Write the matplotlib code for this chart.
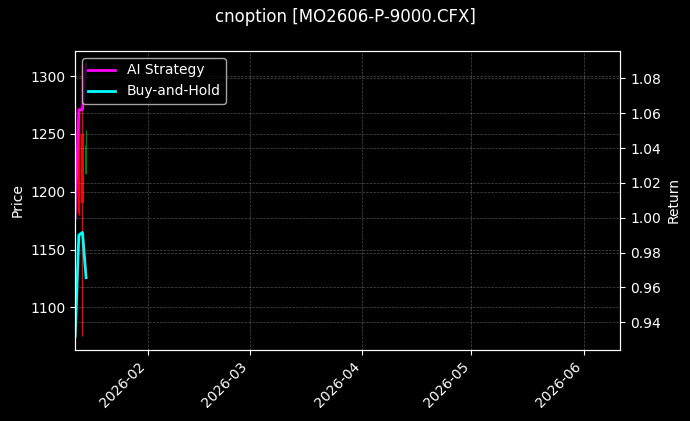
import matplotlib
matplotlib.use("Agg")
import matplotlib.pyplot as plt
import matplotlib.dates as mdates
import numpy as np
import pandas as pd

plt.style.use("dark_background")

dates = pd.to_datetime(["2026-01-12", "2026-01-13", "2026-01-14", "2026-01-15"])
opens = [1272, 1270, 1250, 1215]
highs = [1275, 1272, 1310, 1253]
lows = [1180, 1180, 1075, 1215]
closes = [1185, 1182, 1190, 1240]

ai_strategy = [1.0, 1.062, 1.062, 1.088]
buy_hold = [0.932, 0.990, 0.9916, 0.9656]

x_start = pd.Timestamp("2026-01-12")
x_end = pd.Timestamp("2026-06-11")


def draw_candles(ax):
    x = mdates.date2num(dates)
    for xi, o, h, l, c in zip(x, opens, highs, lows, closes):
        col = "green" if c >= o else "red"
        ax.vlines(xi, l, h, color=col, linewidth=1)
        ax.bar(xi, abs(c - o), bottom=min(o, c), width=0.6, color=col)


fig, ax = plt.subplots(figsize=(6.9, 4.21), dpi=100)
fig.subplots_adjust(left=0.109, right=0.899, top=0.879, bottom=0.169)

draw_candles(ax)
ax.set_ylabel("Price")
ax.grid(True, linestyle="--", linewidth=0.5, alpha=0.3)

ax2 = ax.twinx()
ax2.plot(dates, ai_strategy, color="magenta", linewidth=2, label="AI Strategy")
ax2.plot(dates, buy_hold, color="cyan", linewidth=2, label="Buy-and-Hold")
ax2.set_ylabel("Return")
ax2.grid(True, linestyle="--", linewidth=0.5, alpha=0.3)
ax2.legend(loc="upper left")

ax.set_xlim(x_start, x_end)
ax.xaxis.set_major_locator(mdates.MonthLocator())
ax.xaxis.set_major_formatter(mdates.DateFormatter("%Y-%m"))
for lbl in ax.get_xticklabels():
    lbl.set_rotation(45)
    lbl.set_ha("right")

fig.suptitle("cnoption [MO2606-P-9000.CFX]", fontsize=12)
fig.savefig("out.png")
